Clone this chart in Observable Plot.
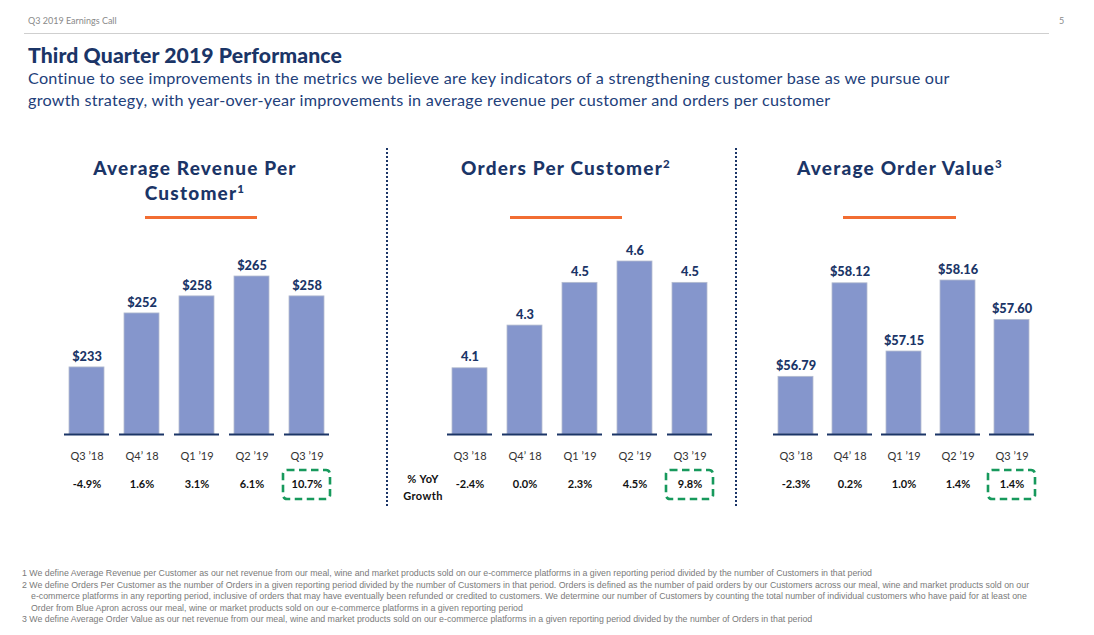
<!DOCTYPE html>
<html><head><meta charset="utf-8">
<script src="https://cdn.jsdelivr.net/npm/d3@7"></script>
<script src="https://cdn.jsdelivr.net/npm/@observablehq/plot@0.6"></script>
<style>
body{margin:0;background:#fff;font-family:Lato,"Open Sans",sans-serif;}
#page{position:relative;width:1094px;height:635px;overflow:hidden;background:#fff;}
.abs{position:absolute;white-space:nowrap;}
.hdr{font-size:9px;color:#8a8a8a;top:15px;}
.title{left:28px;top:42px;font-size:21.2px;font-weight:900;color:#1b3567;letter-spacing:0.1px;}
.sub{left:28px;top:67px;font-size:16.2px;line-height:22px;color:#22407a;letter-spacing:0.25px;}
.ptitle{font-size:19px;font-weight:900;color:#1b3567;text-align:center;line-height:25px;letter-spacing:1.2px;transform:translateX(-50%);}
.ptitle sup{font-size:11.5px;vertical-align:7px;line-height:0;}
.orange{height:3px;background:#f26d32;top:216px;}
.sep{top:148px;height:358px;width:0;border-left:2.4px dotted #1b3567;}
.yoy{left:423px;top:470px;transform:translateX(-50%);text-align:center;font-size:11px;font-weight:700;color:#111;line-height:17px;letter-spacing:0.4px;}
.fn{left:22px;top:568px;font-size:8.8px;line-height:11.6px;color:#7a7a7a;font-family:"Liberation Sans",sans-serif;}
.fn div.ind{padding-left:9px;}
svg.panel{position:absolute;left:0;top:230px;}
</style></head><body><div id="page">
<div class="abs hdr" style="left:28px;">Q3 2019 Earnings Call</div>
<div class="abs hdr" style="left:1059px;">5</div>
<div class="abs" style="left:24px;top:33px;width:1025px;height:1px;background:#cfcfcf;"></div>
<div class="abs title">Third Quarter 2019 Performance</div>
<div class="abs sub">Continue to see improvements in the metrics we believe are key indicators of a strengthening customer base as we pursue our<br>growth strategy, with year-over-year improvements in average revenue per customer and orders per customer</div>

<div class="abs ptitle" style="left:195px;top:155px;">Average Revenue Per<br>Customer<sup>1</sup></div>
<div class="abs ptitle" style="left:566px;top:155px;">Orders Per Customer<sup>2</sup></div>
<div class="abs ptitle" style="left:900px;top:155px;">Average Order Value<sup>3</sup></div>
<div class="abs orange" style="left:145px;width:112px;"></div>
<div class="abs orange" style="left:510px;width:112px;"></div>
<div class="abs orange" style="left:843px;width:113px;"></div>
<div class="abs sep" style="left:386px;"></div>
<div class="abs sep" style="left:735px;"></div>
<div class="abs yoy">% YoY<br>Growth</div>

<div class="abs fn">
<div>1 We define Average Revenue per Customer as our net revenue from our meal, wine and market products sold on our e-commerce platforms in a given reporting period divided by the number of Customers in that period</div>
<div>2 We define Orders Per Customer as the number of Orders in a given reporting period divided by the number of Customers in that period. Orders is defined as the number of paid orders by our Customers across our meal, wine and market products sold on our</div>
<div class="ind">e-commerce platforms in any reporting period, inclusive of orders that may have eventually been refunded or credited to customers. We determine our number of Customers by counting the total number of individual customers who have paid for at least one</div>
<div class="ind">Order from Blue Apron across our meal, wine or market products sold on our e-commerce platforms in a given reporting period</div>
<div>3 We define Average Order Value as our net revenue from our meal, wine and market products sold on our e-commerce platforms in a given reporting period divided by the number of Orders in that period</div>
</div>
</div>
<script>
// ---- data ----
const quarters = ["Q3 \u201918", "Q4\u2019 18", "Q1 \u201919", "Q2 \u201919", "Q3 \u201919"];
const arpcValues = [233, 252, 258, 265, 258];
const arpcGrowth = ["-4.9%", "1.6%", "3.1%", "6.1%", "10.7%"];
const opcValues = [4.1, 4.3, 4.5, 4.6, 4.5];
const opcGrowth = ["-2.4%", "0.0%", "2.3%", "4.5%", "9.8%"];
const aovValues = [56.79, 58.12, 57.15, 58.16, 57.60];
const aovGrowth = ["-2.3%", "0.2%", "1.0%", "1.4%", "1.4%"];
const highlightQuarter = "Q3 \u201919";

const navy = "#1b3567";
const barFill = "#8596cc";

function panel({values, growth, fmt, xRange, yDomain, yRange}) {
  const rows = quarters.map((q, i) => ({q, v: values[i], g: growth[i]}));
  const base = yDomain[0];
  const chart = Plot.plot({
    width: 1094, height: 280,
    marginTop: 0, marginBottom: 76, marginLeft: 0, marginRight: 0,
    x: {domain: quarters, range: xRange, paddingInner: 0.36, paddingOuter: 0.18, axis: null},
    y: {domain: yDomain, range: yRange, axis: null},
    style: {background: "transparent", overflow: "visible", fontFamily: "Lato, sans-serif"},
    marks: [
      Plot.barY(rows, {x: "q", y1: () => base, y2: "v", fill: barFill, stroke: "#b4bccf", strokeWidth: 0.8}),
      Plot.tickY(rows, {x: "q", y: () => base, stroke: navy, strokeWidth: 1.8, insetLeft: -5, insetRight: -5}),
      Plot.text(rows, {x: "q", y: "v", text: d => fmt(d.v), dy: -11, fill: navy, fontWeight: 900, fontSize: 12.8, letterSpacing: "0.3px"}),
      Plot.text(rows, {x: "q", text: "q", frameAnchor: "bottom", dy: 25, fill: "#333", fontSize: 11}),
      Plot.text(rows, {x: "q", text: "g", frameAnchor: "bottom", dy: 53, fill: "#111", fontSize: 11, fontWeight: 700})
    ]
  });
  chart.classList.add("panel");
  // dashed highlight box around the latest growth figure, placed with the plot's x scale
  const xs = chart.scale("x");
  const cx = xs.apply(highlightQuarter) + xs.bandwidth / 2;
  const yBase = chart.scale("y").apply(base);
  d3.select(chart).append("rect")
    .attr("x", cx - 23.5).attr("y", yBase + 36)
    .attr("width", 47).attr("height", 29)
    .attr("rx", 4)
    .attr("fill", "none").attr("stroke", "#17995c")
    .attr("stroke-width", 2.6).attr("stroke-dasharray", "7.5,4.5");
  document.getElementById("page").appendChild(chart);
}

panel({values: arpcValues, growth: arpcGrowth, fmt: d3.format("$.0f"),
  xRange: [59, 334], yDomain: [209.4, 265], yRange: [204, 46]});
panel({values: opcValues, growth: opcGrowth, fmt: d3.format(".1f"),
  xRange: [440, 719], yDomain: [3.79, 4.6], yRange: [204, 31]});
panel({values: aovValues, growth: aovGrowth, fmt: d3.format("$.2f"),
  xRange: [767.4, 1038.6], yDomain: [55.97, 58.16], yRange: [204, 50]});
</script>
</body></html>
